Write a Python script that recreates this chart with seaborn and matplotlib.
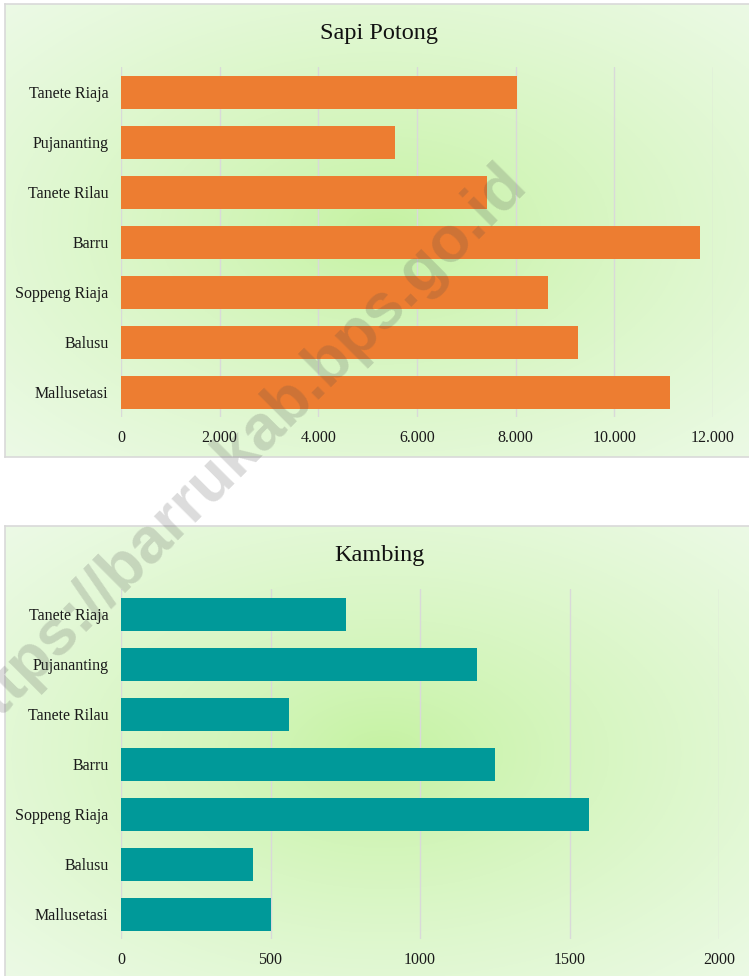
import numpy as np
import pandas as pd
import matplotlib
matplotlib.use("Agg")
import matplotlib.pyplot as plt
from matplotlib.ticker import FuncFormatter
import seaborn as sns

# Data
kecamatan = ["Tanete Riaja", "Pujananting", "Tanete Rilau", "Barru",
             "Soppeng Riaja", "Balusu", "Mallusetasi"]
sapi_potong = [8025, 5560, 7415, 11740, 8655, 9270, 11125]
kambing = [752, 1191, 563, 1251, 1566, 440, 501]

sapi_ticks = [0, 2000, 4000, 6000, 8000, 10000, 12000]
kambing_ticks = [0, 500, 1000, 1500, 2000]

ORANGE = "#ED7D31"
TEAL = "#009999"
GRID = "#d9d9d9"
SERIF = ["Liberation Serif", "DejaVu Serif"]

sns.set_theme(style="white")
plt.rcParams["font.family"] = SERIF

W, H = 749, 976
fig = plt.figure(figsize=(W / 100, H / 100), dpi=100)


def fx(px):
    return px / W


def fy(py):
    return 1 - py / H


def panel_bg(top, bottom):
    """light green radial gradient box like the Excel chart area"""
    bg = fig.add_axes([fx(5), fy(bottom), 1.02 - fx(5), fy(top) - fy(bottom)])
    n = 300
    xx, yy = np.meshgrid(np.linspace(-1, 1, n), np.linspace(-1, 1, n))
    d = np.clip(np.sqrt(xx ** 2 + yy ** 2) / np.sqrt(2), 0, 1)
    inner = np.array([196, 242, 160]) / 255
    outer = np.array([236, 250, 230]) / 255
    img = inner + (outer - inner) * d[..., None] ** 0.8
    bg.imshow(img, extent=[0, 1, 0, 1], aspect="auto", zorder=0)
    bg.set_xticks([])
    bg.set_yticks([])
    for s in bg.spines.values():
        s.set_color(GRID)
        s.set_linewidth(1.2)
    bg.set_zorder(0)
    return bg


def draw_bars(top, bottom, right, values, color, ticks, fmt, title, title_y):
    ax = fig.add_axes([fx(121), fy(bottom), fx(right) - fx(121), fy(top) - fy(bottom)])
    ax.set_zorder(1)
    ax.patch.set_alpha(0)
    df = pd.DataFrame({"kecamatan": kecamatan, "nilai": values})
    sns.barplot(data=df, x="nilai", y="kecamatan", orient="h", color=color,
                saturation=1, width=0.66, linewidth=0, ax=ax)
    ax.set_xlim(ticks[0], ticks[-1])
    ax.set_xticks(ticks)
    ax.xaxis.set_major_formatter(FuncFormatter(fmt))
    ax.set_xlabel("")
    ax.set_ylabel("")
    ax.set_axisbelow(True)
    ax.xaxis.grid(True, color=GRID, linewidth=1)
    ax.yaxis.grid(False)
    sns.despine(ax=ax, left=True, bottom=True)
    ax.tick_params(axis="both", length=0, labelsize=11.5, colors="#1a1a1a")
    ax.tick_params(axis="x", pad=9)
    ax.tick_params(axis="y", pad=9)
    fig.text(0.506, fy(title_y), title, ha="center", va="center",
             fontsize=17.5, color="#111111", family=SERIF)
    return ax


panel_bg(4, 457)
draw_bars(67, 417, 713, sapi_potong, ORANGE, sapi_ticks,
          lambda v, p: f"{int(v):,}".replace(",", "."), "Sapi Potong", 33)

panel_bg(526, 982)
draw_bars(589, 939, 719, kambing, TEAL, kambing_ticks,
          lambda v, p: f"{int(v)}", "Kambing", 555)

# watermark over the whole page (the reference also cuts it at the left edge)
fig.text(fx(238), fy(452), "https://barrukab.bps.go.id", rotation=45,
         ha="center", va="center", fontsize=46, fontweight="bold",
         family=["Liberation Sans", "DejaVu Sans"], color="#4d4d4d",
         alpha=0.2, zorder=10)

fig.savefig("out.png", dpi=100)
